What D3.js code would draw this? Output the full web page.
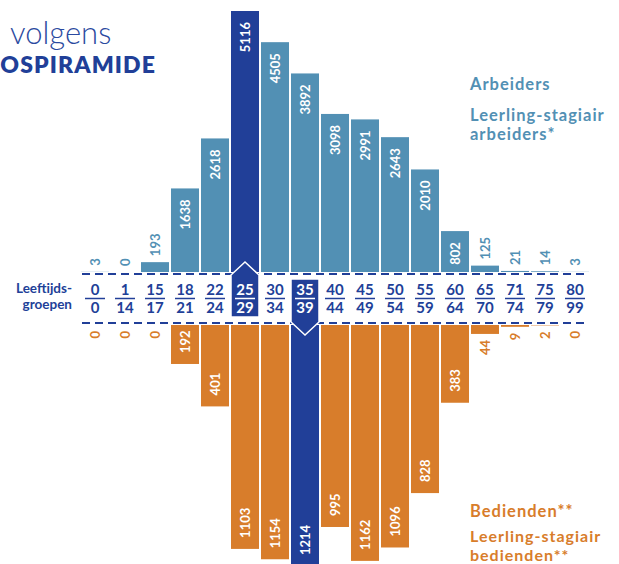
<!DOCTYPE html>
<html><head><meta charset="utf-8">
<script src="https://cdn.jsdelivr.net/npm/d3@7/dist/d3.min.js"></script>
<style>body{margin:0;background:#fff}svg{display:block}</style>
</head><body>
<svg id="c" width="619" height="564"></svg>
<script>
const ageFrom = ["0","1","15","18","22","25","30","35","40","45","50","55","60","65","71","75","80"];
const ageTo   = ["0","14","17","21","24","29","34","39","44","49","54","59","64","70","74","79","99"];
const arbeiders = [3,0,193,1638,2618,5116,4505,3892,3098,2991,2643,2010,802,125,21,14,3];
const bedienden = [0,0,0,192,401,1103,1154,1214,995,1162,1096,828,383,44,9,2,0];
const highlightTop = 5;   // 25-29
const highlightBottom = 7; // 35-39

const C = {blue:"#5290b4", navy:"#213f98", orange:"#d87d2b"};
const F = "Lato, 'Noto Sans', sans-serif";
const svg = d3.select("#c");

const x = d3.scaleBand().domain(d3.range(ageFrom.length)).range([80,590]).paddingInner(1/15).paddingOuter(1/30);
const yTop = d3.scaleLinear().domain([0,5116]).range([272,11]);
const yBot = d3.scaleLinear().domain([0,1214]).range([325,325+1214*0.203]);
const bw = x.bandwidth();
const cx = i => x(i) + bw/2;

// title fragments
svg.append("text").attr("x",10).attr("y",44).attr("font-family",F).attr("font-weight",300)
  .attr("font-size",31).attr("fill","#2b4aa0").text("volgens");
svg.append("text").attr("x",156).attr("y",73).attr("text-anchor","end").attr("font-family",F).attr("font-weight",800)
  .attr("font-size",23).attr("letter-spacing",1.1).attr("fill",C.navy).text("OSPIRAMIDE");

// dashed baselines
[274,323].forEach(yy => svg.append("line").attr("x1",82).attr("x2",588).attr("y1",yy).attr("y2",yy)
  .attr("stroke",C.navy).attr("stroke-width",2).attr("stroke-dasharray","8,5"));

// top bars
svg.append("g").selectAll("rect").data(arbeiders).join("rect")
  .attr("x",(d,i)=>x(i)).attr("width",bw)
  .attr("y",d=>yTop(d)).attr("height",d=>yTop(0)-yTop(d))
  .attr("fill",(d,i)=>i===highlightTop?C.navy:C.blue);

// bottom bars
svg.append("g").selectAll("rect").data(bedienden).join("rect")
  .attr("x",(d,i)=>x(i)).attr("width",bw)
  .attr("y",yBot(0)).attr("height",d=>yBot(d)-yBot(0))
  .attr("fill",(d,i)=>i===highlightBottom?C.navy:C.orange);

// top labels
arbeiders.forEach((d,i)=>{
  const h = yTop(0)-yTop(d);
  const inside = h > 30;
  const yy = inside ? yTop(d)+11 : yTop(d)-6;
  svg.append("text").attr("transform",`translate(${cx(i)},${yy}) rotate(-90)`)
    .attr("text-anchor",inside?"end":"start").attr("dominant-baseline","central")
    .attr("font-family",F).attr("font-weight",700).attr("font-size",13)
    .attr("fill",inside?"#fff":C.blue).text(d);
});
// bottom labels
bedienden.forEach((d,i)=>{
  const h = yBot(d)-yBot(0);
  const inside = h > 30;
  const yy = inside ? Math.min(yBot(d),566)-11 : yBot(d)+6;
  svg.append("text").attr("transform",`translate(${cx(i)},${yy}) rotate(-90)`)
    .attr("text-anchor",inside?"start":"end").attr("dominant-baseline","central")
    .attr("font-family",F).attr("font-weight",700).attr("font-size",13)
    .attr("fill",inside?"#fff":C.orange).text(d);
});

// highlight boxes
{
  const x0 = x(highlightTop), x1 = x0+bw, m = cx(highlightTop);
  svg.append("path").attr("d",`M${x0},317 L${x0},275 L${m},262 L${x1},275 L${x1},317 Z`)
    .attr("fill",C.navy).attr("stroke","#fff").attr("stroke-width",1.5).attr("stroke-linejoin","miter");
}
{
  const x0 = x(highlightBottom), x1 = x0+bw, m = cx(highlightBottom);
  svg.append("path").attr("d",`M${x0},279 L${x1},279 L${x1},322 L${m},335 L${x0},322 Z`)
    .attr("fill",C.navy).attr("stroke","#fff").attr("stroke-width",1.5).attr("stroke-linejoin","miter");
}

// age labels
ageFrom.forEach((a,i)=>{
  const hl = i===highlightTop || i===highlightBottom;
  const col = hl ? "#fff" : C.navy;
  svg.append("text").attr("x",cx(i)).attr("y",295).attr("text-anchor","middle")
    .attr("font-family",F).attr("font-weight",700).attr("font-size",15).attr("fill",col).text(a);
  svg.append("line").attr("x1",cx(i)-10).attr("x2",cx(i)+10).attr("y1",298.5).attr("y2",298.5)
    .attr("stroke",col).attr("stroke-width",1.5);
  svg.append("text").attr("x",cx(i)).attr("y",313).attr("text-anchor","middle")
    .attr("font-family",F).attr("font-weight",700).attr("font-size",15).attr("fill",col).text(ageTo[i]);
});

// axis title (two lines)
const at = svg.append("text").attr("text-anchor","end").attr("font-family",F).attr("font-weight",700)
  .attr("font-size",13.5).attr("fill",C.navy);
at.append("tspan").attr("x",72).attr("y",293).text("Leeftijds-");
at.append("tspan").attr("x",72).attr("y",309).text("groepen");

// legends
const lg = (lines, ys, col, fs) => {
  const t = svg.append("text").attr("font-family",F).attr("font-weight",700).attr("font-size",fs)
    .attr("letter-spacing",1).attr("fill",col);
  lines.forEach((s,k)=>t.append("tspan").attr("x",470).attr("y",ys[k]).text(s));
};
lg(["Arbeiders"],[90],C.blue,16.5);
lg(["Leerling-stagiair","arbeiders*"],[121,140],C.blue,16.5);
lg(["Bedienden**"],[517],C.orange,16.5);
lg(["Leerling-stagiair","bedienden**"],[542,561],C.orange,16);
</script>
</body></html>
